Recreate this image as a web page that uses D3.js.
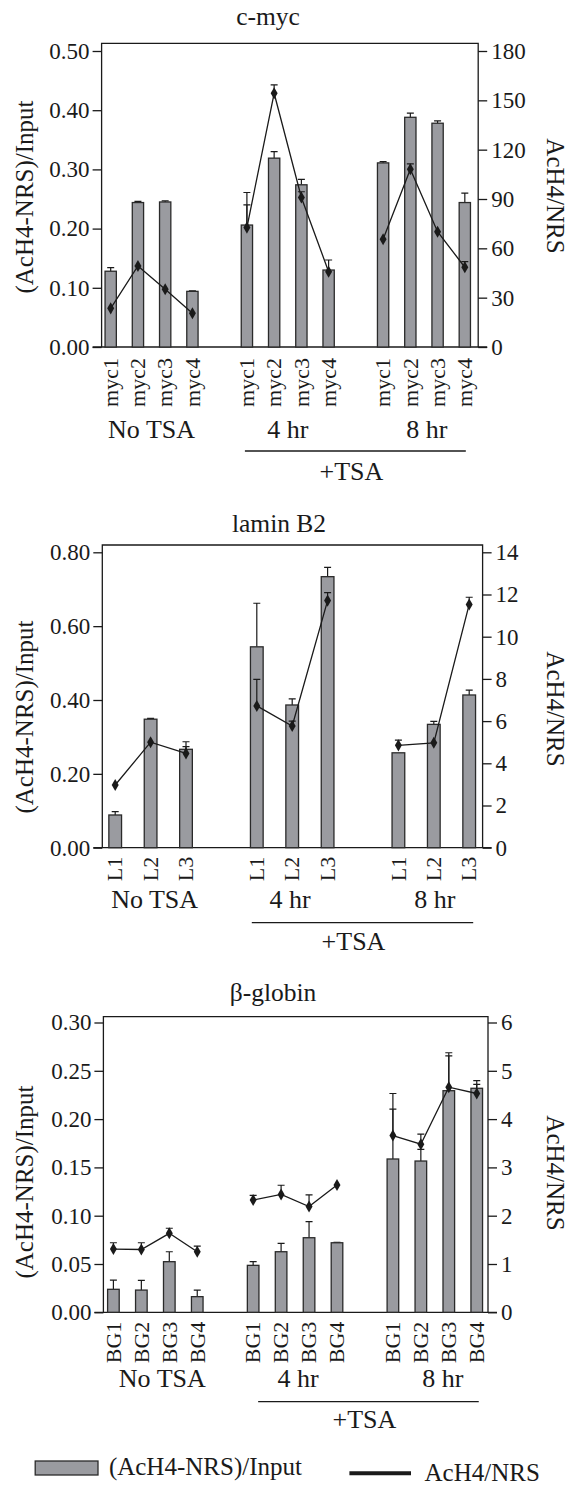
<!DOCTYPE html>
<html><head><meta charset="utf-8">
<script src="https://cdn.jsdelivr.net/npm/d3@7"></script>
<style>
body{margin:0;background:#fff}
svg{display:block}
text{font-family:"Liberation Serif","Times New Roman",serif;fill:#1a1a1a}
</style>
</head><body>
<svg id="c" width="569" height="1486"></svg>
<script>
// ---------- data ----------
const groupLabels = ["No TSA", "4 hr", "8 hr"];
const treatLabel = "+TSA";
const leftTitle = "(AcH4-NRS)/Input";
const rightTitle = "AcH4/NRS";

// c-myc
const mycCats = ["myc1", "myc2", "myc3", "myc4"];
const mycBars = [[0.128, 0.244, 0.245, 0.094], [0.206, 0.319, 0.274, 0.130], [0.311, 0.388, 0.378, 0.244]];
const mycBarErr = [[0.134, 0.246, 0.247, 0.095], [0.261, 0.330, 0.283, 0.147], [0.313, 0.395, 0.382, 0.260]];
const mycLine = [[23.5, 49.3, 35.1, 20.5], [72.6, 154.3, 90.9, 45.8], [65.5, 108.1, 70.1, 48.5]];
const mycLineErr = [[null, null, null, null], [86.4, 159.4, 94.4, null], [null, 111.3, null, 51.9]];
const mycLeftTicks = [0, 0.1, 0.2, 0.3, 0.4, 0.5];
const mycRightTicks = [0, 30, 60, 90, 120, 150, 180];

// lamin B2
const lamCats = ["L1", "L2", "L3"];
const lamBars = [[0.0886, 0.348, 0.2665], [0.544, 0.3865, 0.734], [0.257, 0.334, 0.4136]];
const lamBarErr = [[0.0975, 0.350, 0.287], [0.662, 0.403, 0.759], [null, 0.342, 0.427]];
const lamLine = [[2.97, 5.0, 4.47], [6.72, 5.77, 11.71], [4.85, 4.97, 11.53]];
const lamLineErr = [[null, null, 4.79], [7.98, 6.0, 12.09], [5.1, null, 11.87]];
const lamLeftTicks = [0, 0.2, 0.4, 0.6, 0.8];
const lamRightTicks = [0, 2, 4, 6, 8, 10, 12, 14];

// beta-globin
const bgCats = ["BG1", "BG2", "BG3", "BG4"];
const bgBars = [[0.0238, 0.023, 0.0524, 0.0162], [0.0486, 0.0627, 0.0772, 0.072], [0.1587, 0.1566, 0.2294, 0.2319]];
const bgBarErr = [[0.0334, 0.033, 0.0627, 0.023], [0.0524, 0.0714, 0.0938, 0.0725], [0.2104, 0.1687, 0.2687, 0.2398]];
const bgLine = [[1.31, 1.30, 1.635, 1.255], [2.325, 2.44, 2.19, 2.635], [3.66, 3.48, 4.66, 4.53]];
const bgLineErr = [[1.44, 1.44, 1.74, 1.37], [2.42, 2.63, 2.43, null], [4.53, 3.69, 5.31, 4.72]];
const bgLeftTicks = [0, 0.05, 0.10, 0.15, 0.20, 0.25, 0.30];
const bgRightTicks = [0, 1, 2, 3, 4, 5, 6];

// ---------- layout ----------
const panels = [
  {title: "c-myc", cats: mycCats, bars: mycBars, barErr: mycBarErr, line: mycLine, lineErr: mycLineErr,
   leftTicks: mycLeftTicks, rightTicks: mycRightTicks,
   L: 101.6, R: 478.2, T: 43.3, y0: 347, yTop: 51, x0: 110.7, step: 27.24, bw: 11.3,
   titleX: 268, titleY: 24.5, catY: 358, groupY: 438, groupDx: [0, 0, 3], ulY: 451, ulPad: [2, 1], tsaY: 480, tsaDx: -4,
   lyL: 197, lyR: 196},
  {title: "lamin B2", cats: lamCats, bars: lamBars, barErr: lamBarErr, line: lamLine, lineErr: lamLineErr,
   leftTicks: lamLeftTicks, rightTicks: lamRightTicks,
   L: 102.3, R: 482.6, T: 545, y0: 847.7, yTop: 552.3, x0: 115.2, step: 35.4, bw: 12.7,
   titleX: 279, titleY: 532, catY: 856.7, groupY: 908, groupDx: [4, -2, 1], ulY: 922.7, ulPad: [5, 4], tsaY: 950, tsaDx: -9,
   lyL: 717, lyR: 709},
  {title: "\u03b2-globin", cats: bgCats, bars: bgBars, barErr: bgBarErr, line: bgLine, lineErr: bgLineErr,
   leftTicks: bgLeftTicks, rightTicks: bgRightTicks,
   L: 103.4, R: 488, T: 1016.7, y0: 1312.3, yTop: 1022.5, x0: 113.4, step: 27.95, bw: 11.6,
   titleX: 273, titleY: 1001, catY: 1321.7, groupY: 1386.7, groupDx: [7, 3, 8], ulY: 1401.7, ulPad: [-5, 2], tsaY: 1428.3, tsaDx: -4,
   lyL: 1182, lyR: 1173}
];

const svg = d3.select("#c");
const INK = "#1a1a1a";
const BAR = "#9a9ba0";

panels.forEach(p => {
  const g = svg.append("g");
  const n = p.cats.length;
  const nSlots = 3 * n + 2;
  const slot = (gi, i) => gi * (n + 1) + i;
  const x = d3.scaleLinear().domain([0, nSlots - 1]).range([p.x0, p.x0 + p.step * (nSlots - 1)]);
  const leftMax = p.leftTicks[p.leftTicks.length - 1];
  const rightMax = p.rightTicks[p.rightTicks.length - 1];
  const yL = d3.scaleLinear().domain([0, leftMax]).range([p.y0, p.yTop]);
  const yR = d3.scaleLinear().domain([0, rightMax]).range([p.y0, p.yTop]);

  // frame
  g.append("path")
    .attr("d", `M${p.L},${p.y0}V${p.T}H${p.R}V${p.y0}`)
    .attr("fill", "none").attr("stroke", INK).attr("stroke-width", 1.3);

  // axes
  const axL = d3.axisLeft(yL).tickValues(p.leftTicks).tickFormat(d3.format(".2f")).tickSize(9).tickPadding(3);
  const gL = g.append("g").attr("transform", `translate(${p.L},0)`).call(axL);
  const axR = d3.axisRight(yR).tickValues(p.rightTicks).tickFormat(d3.format("d")).tickSize(9).tickPadding(4);
  const gR = g.append("g").attr("transform", `translate(${p.R},0)`).call(axR);
  [gL, gR].forEach(a => {
    a.select(".domain").remove();
    a.selectAll(".tick line").attr("stroke", INK).attr("stroke-width", 1.3);
    a.selectAll(".tick text").attr("fill", INK).style("font-family", '"Liberation Serif",serif').style("font-size", "23px");
  });
  g.append("line").attr("x1", p.L - 9).attr("x2", p.R + 9).attr("y1", p.y0).attr("y2", p.y0)
    .attr("stroke", INK).attr("stroke-width", 1.3);

  const recs = [];
  p.bars.forEach((arr, gi) => arr.forEach((v, i) => recs.push({
    s: slot(gi, i), v, e: p.barErr[gi][i], lv: p.line[gi][i], le: p.lineErr[gi][i], cat: p.cats[i], gi})));

  // bar error bars
  g.selectAll(".be").data(recs.filter(d => d.e != null)).join("path")
    .attr("d", d => `M${x(d.s)},${yL(d.v)}V${yL(d.e)}M${x(d.s) - 3.5},${yL(d.e)}H${x(d.s) + 3.5}`)
    .attr("stroke", INK).attr("stroke-width", 1.2).attr("fill", "none");

  g.selectAll(".bar").data(recs).join("rect")
    .attr("x", d => x(d.s) - p.bw / 2).attr("width", p.bw)
    .attr("y", d => yL(d.v)).attr("height", d => p.y0 - yL(d.v))
    .attr("fill", BAR).attr("stroke", "#2a2a2a").attr("stroke-width", 1.3);

  // line series per group
  const lineGen = d3.line().x(d => x(d.s)).y(d => yR(d.lv));
  [0, 1, 2].forEach(gi => {
    g.append("path").datum(recs.filter(d => d.gi === gi)).attr("d", lineGen)
      .attr("fill", "none").attr("stroke", INK).attr("stroke-width", 1.3);
  });
  g.selectAll(".le").data(recs.filter(d => d.le != null)).join("path")
    .attr("d", d => `M${x(d.s)},${yR(d.lv)}V${yR(d.le)}M${x(d.s) - 3.5},${yR(d.le)}H${x(d.s) + 3.5}`)
    .attr("stroke", INK).attr("stroke-width", 1.2).attr("fill", "none");
  g.selectAll(".mk").data(recs).join("path")
    .attr("transform", d => `translate(${x(d.s)},${yR(d.lv)})`)
    .attr("d", d3.symbol(d3.symbolDiamond, 42))
    .attr("fill", INK);

  // category labels (rotated)
  g.selectAll(".cat").data(recs).join("text")
    .attr("transform", d => `translate(${x(d.s)},${p.catY}) rotate(-90)`)
    .attr("text-anchor", "end").attr("dy", "0.33em")
    .style("font-size", "22px").text(d => d.cat);

  // group labels
  groupLabels.forEach((lab, gi) => {
    const cx = (x(slot(gi, 0)) + x(slot(gi, n - 1))) / 2 + p.groupDx[gi];
    g.append("text").attr("x", cx).attr("y", p.groupY).attr("text-anchor", "middle")
      .style("font-size", "26px").text(lab);
  });
  const ux0 = x(slot(1, 0)) - p.ulPad[0], ux1 = x(slot(2, n - 1)) + p.ulPad[1];
  g.append("line").attr("x1", ux0).attr("x2", ux1).attr("y1", p.ulY).attr("y2", p.ulY)
    .attr("stroke", INK).attr("stroke-width", 1.3);
  g.append("text").attr("x", (ux0 + ux1) / 2 + p.tsaDx).attr("y", p.tsaY).attr("text-anchor", "middle")
    .style("font-size", "26px").text(treatLabel);

  // title
  g.append("text").attr("x", p.titleX).attr("y", p.titleY).attr("text-anchor", "middle")
    .style("font-size", "25.5px").text(p.title);

  // axis titles
  g.append("text").attr("transform", `translate(24,${p.lyL}) rotate(-90)`)
    .attr("text-anchor", "middle").attr("dy", "0.35em").style("font-size", "25px").text(leftTitle);
  g.append("text").attr("transform", `translate(556,${p.lyR}) rotate(90)`)
    .attr("text-anchor", "middle").attr("dy", "0.35em").style("font-size", "25px").text(rightTitle);
});

// legend
const lg = svg.append("g");
lg.append("rect").attr("x", 35.2).attr("y", 1461).attr("width", 62.8).attr("height", 14)
  .attr("fill", BAR).attr("stroke", "#2a2a2a").attr("stroke-width", 1.3);
lg.append("text").attr("x", 108.9).attr("y", 1475).style("font-size", "25px").text(leftTitle);
lg.append("line").attr("x1", 349.4).attr("x2", 411).attr("y1", 1473.3).attr("y2", 1473.3)
  .attr("stroke", INK).attr("stroke-width", 4);
lg.append("text").attr("x", 424.5).attr("y", 1481).style("font-size", "25px").text(rightTitle);
</script>
</body></html>
